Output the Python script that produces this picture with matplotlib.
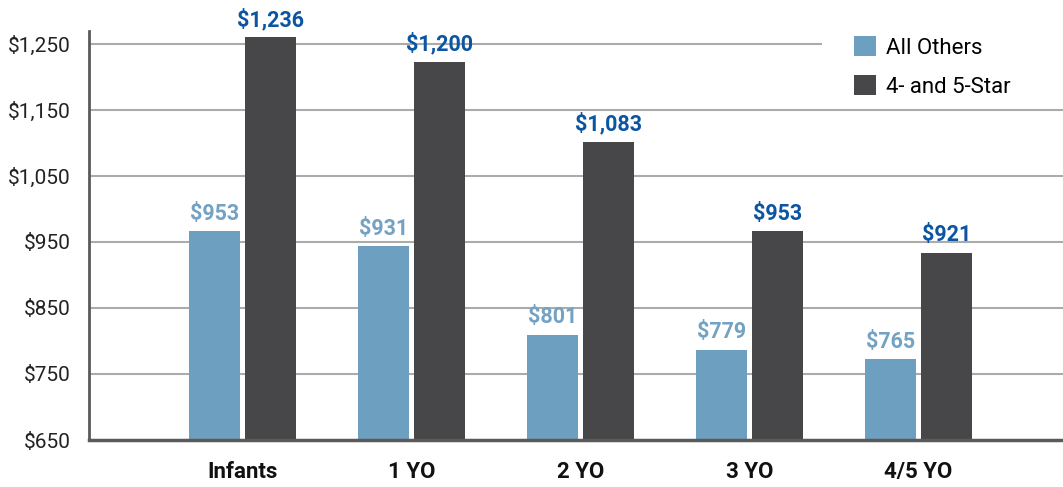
import matplotlib
matplotlib.use("Agg")
import matplotlib.pyplot as plt
import numpy as np

categories = ["Infants", "1 YO", "2 YO", "3 YO", "4/5 YO"]
all_others = [953, 931, 801, 779, 765]
four_five_star = [1236, 1200, 1083, 953, 921]
series_names = ["All Others", "4- and 5-Star"]
tick_labels = ["$650", "$750", "$850", "$950", "$1,050", "$1,150", "$1,250"]

BLUE = "#6d9fc0"
DARK = "#474749"
LABEL_LIGHT = "#74a2c3"
LABEL_DARK = "#0b55a3"

plt.rcParams["font.family"] = ["Roboto", "DejaVu Sans"]

fig = plt.figure(figsize=(10.63, 4.87), dpi=100)
ax = fig.add_axes([89 / 1063, 47 / 487, 974 / 1063, 409 / 487])

# the printed axis does not line up with the bar values, keep the picture's spacing
y_bottom = 646.7
y_step = 96.58
y_top = y_bottom + 409 / 0.6834
ax.set_ylim(y_bottom, y_top)
ax.set_xlim(-0.908, 4.855)

ticks = [y_bottom + k * y_step for k in range(len(tick_labels))]
for i, t in enumerate(ticks[1:]):
    xmax = 0.7515 if i == len(ticks) - 2 else 1.0
    ax.axhline(t, xmin=0, xmax=xmax, color="#ababab", lw=1.5, zorder=0)

x = np.arange(len(categories))
width = 0.302
offset = 0.166
b1 = ax.bar(x - offset, all_others, width, color=BLUE, label=series_names[0], zorder=2)
b2 = ax.bar(x + offset, four_five_star, width, color=DARK, label=series_names[1], zorder=2)

for bars, vals, col in [(b1, all_others, LABEL_LIGHT), (b2, four_five_star, LABEL_DARK)]:
    for rect, v in zip(bars, vals):
        ax.annotate(f"${v:,}", (rect.get_x() + rect.get_width() / 2, v),
                    xytext=(0, 8), textcoords="offset points", ha="center", va="baseline",
                    fontsize=15.5, fontweight="bold", color=col, annotation_clip=False)

ax.set_yticks(ticks)
ax.set_yticklabels(tick_labels, fontsize=15, color="#222222")
ax.set_xticks(x)
ax.set_xticklabels(categories, fontsize=16, fontweight="bold", color="#111111")
ax.tick_params(axis="y", length=0, pad=13)
ax.tick_params(axis="x", length=0, pad=15)

for s in ["top", "right"]:
    ax.spines[s].set_visible(False)
ax.spines["left"].set_color("#5a5a5a")
ax.spines["left"].set_linewidth(2)
ax.spines["bottom"].set_color("#5a5a5a")
ax.spines["bottom"].set_linewidth(2.5)
ax.spines["bottom"].set_zorder(3)

leg = ax.legend(loc="upper left", bbox_to_anchor=((854 - 89) / 974, (440 - 36) / 409),
                frameon=False, fontsize=16, handlelength=1.0, handleheight=1.0,
                handletextpad=0.45, labelspacing=0.75, borderpad=0, borderaxespad=0)

fig.savefig("out.png", dpi=100)
